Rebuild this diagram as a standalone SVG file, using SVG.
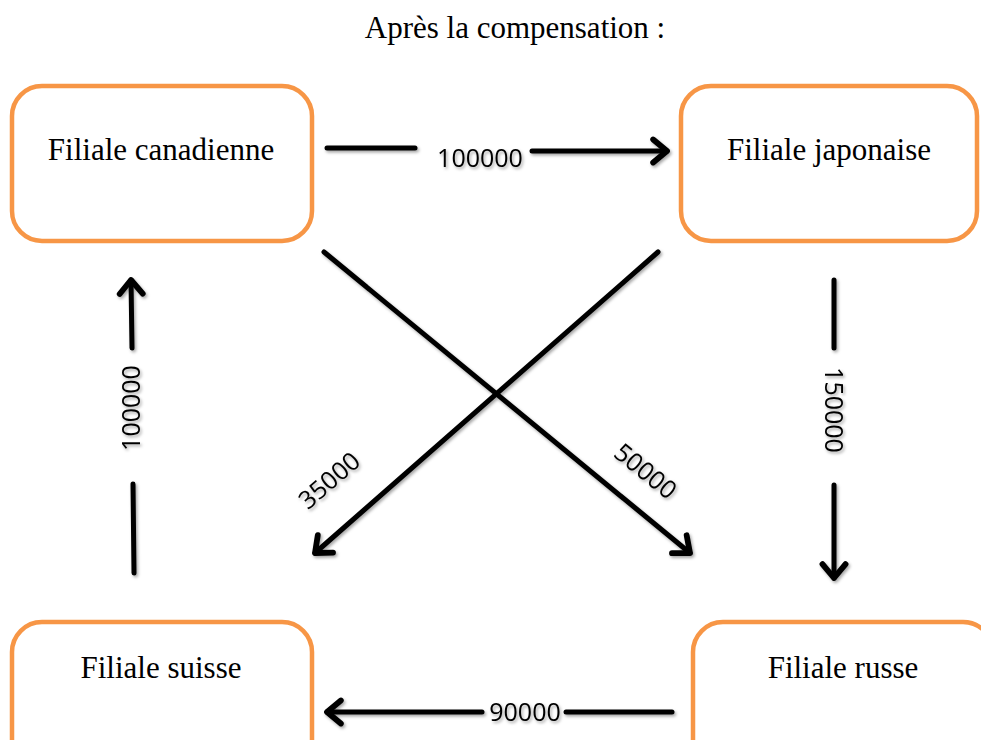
<svg xmlns="http://www.w3.org/2000/svg" width="981" height="740" viewBox="0 0 981 740">
<style>
.box{fill:#fff;stroke:#F79646;stroke-width:4.5}
.nt{font-family:"Liberation Serif","Times New Roman",serif;font-size:31px;fill:#000;text-anchor:middle}
.lbl{font-family:"Open Sans","Liberation Sans",sans-serif;font-size:25px;fill:#000;text-anchor:middle}
.ln{stroke:#000;stroke-width:5;fill:none;stroke-linecap:round}
</style>
<defs>
<marker id="ah" markerUnits="userSpaceOnUse" markerWidth="30" markerHeight="30" viewBox="-16 -13 20 26" refX="0" refY="0" orient="auto">
<path d="M-12,-10 L0,0 L-12,10" fill="none" stroke="#000" stroke-width="5" stroke-linecap="round" stroke-linejoin="round"/>
</marker>
<filter id="sh" x="-10%" y="-10%" width="130%" height="130%">
<feDropShadow dx="1.5" dy="2" stdDeviation="1.5" flood-color="#000" flood-opacity="0.35"/>
</filter>
</defs>
<rect width="981" height="740" fill="#fff"/>
<text x="515" y="38" style="font-family:'Liberation Serif','Times New Roman',serif;font-size:31px;text-anchor:middle">Après la compensation :</text>
<g id="canadienne"><rect class="box" x="12" y="86" width="300" height="155" rx="30"/><text class="nt" x="161" y="160">Filiale canadienne</text></g>
<g id="japonaise"><rect class="box" x="681" y="86" width="296" height="155" rx="30"/><text class="nt" x="829" y="160">Filiale japonaise</text></g>
<g id="suisse"><rect class="box" x="12" y="622" width="300" height="160" rx="30"/><text class="nt" x="161" y="678">Filiale suisse</text></g>
<g id="russe"><rect class="box" x="693" y="622" width="300" height="160" rx="30"/><text class="nt" x="843" y="678">Filiale russe</text></g>
<g id="connectors" filter="url(#sh)">
<line class="ln" x1="327" y1="148" x2="415" y2="148"/>
<line class="ln" x1="532" y1="151" x2="667" y2="151" marker-end="url(#ah)"/>
<text class="lbl" x="480" y="167">100000</text>
<line class="ln" x1="134" y1="573" x2="133" y2="484"/>
<line class="ln" x1="132" y1="348" x2="131" y2="280" marker-end="url(#ah)"/>
<text class="lbl" transform="translate(140,408) rotate(-90)">100000</text>
<line class="ln" x1="834" y1="280" x2="834" y2="348"/>
<line class="ln" x1="834" y1="485" x2="834" y2="578" marker-end="url(#ah)"/>
<text class="lbl" transform="translate(825,410) rotate(90)">150000</text>
<line class="ln" x1="324" y1="252" x2="690" y2="553" marker-end="url(#ah)"/>
<text class="lbl" transform="translate(640,478) rotate(39)">50000</text>
<line class="ln" x1="658" y1="252" x2="315" y2="553" marker-end="url(#ah)"/>
<text class="lbl" transform="translate(335,487) rotate(-41)">35000</text>
<line class="ln" x1="672" y1="712" x2="566" y2="712"/>
<line class="ln" x1="482" y1="712" x2="327" y2="712" marker-end="url(#ah)"/>
<text class="lbl" x="525" y="721">90000</text>
</g>
</svg>
